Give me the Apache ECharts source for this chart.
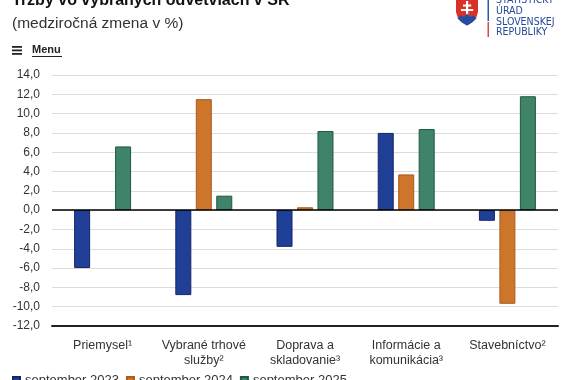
<!DOCTYPE html>
<html>
<head>
<meta charset="utf-8">
<script src="https://cdn.jsdelivr.net/npm/echarts@6/dist/echarts.min.js"></script>
<style>html,body{margin:0;padding:0;background:#fff}#c{width:570px;height:380px}</style>
</head>
<body>
<div id="c"></div>
<script>
const categories = ['Priemysel\u00b9', 'Vybrané trhové\nslužby\u00b2', 'Doprava a\nskladovanie\u00b3', 'Informácie a\nkomunikácia\u00b3', 'Stavebníctvo\u00b2'];
const seriesNames = ['september 2023', 'september 2024', 'september 2025'];
const sep2023 = [-6.0, -8.8, -3.8, 8.0, -1.1];
const sep2024 = [null, 11.5, 0.3, 3.7, -9.7];
const sep2025 = [6.6, 1.5, 8.2, 8.4, 11.8];
const yTicks = { min: -12, max: 14, interval: 2 };

const FONT = '"Liberation Sans", Arial, Helvetica, sans-serif';
const NARROW = '"Liberation Sans Narrow", "DejaVu Sans Condensed", ' + FONT;
const colors = ['#203f97', '#cc752b', '#3f8469'];
const borders = ['#14246a', '#a95c1c', '#1c5a40'];
const values = [sep2023, sep2024, sep2025];

const chart = echarts.init(document.getElementById('c'), null, { renderer: 'canvas' });

const series = values.map((v, i) => {
  const s = {
    name: seriesNames[i],
    type: 'bar',
    data: v,
    barWidth: 16,
    barGap: '28%',
    itemStyle: { color: colors[i], borderColor: borders[i], borderWidth: 1 },
    emphasis: { disabled: true }
  };
  if (i === 0) {
    s.markLine = {
      silent: true, symbol: ['none', 'none'], label: { show: false },
      lineStyle: { color: '#000', width: 1.5, type: 'solid' },
      data: [{ yAxis: 0 }]
    };
  }
  return s;
});

function txt(x, y, text, font, fill) {
  return { type: 'text', x: x, y: y, style: { text: text, font: font, fill: fill, textVerticalAlign: 'middle', verticalAlign: 'middle' } };
}
function rect(x, y, w, h, fill) {
  return { type: 'rect', shape: { x: x, y: y, width: w, height: h }, style: { fill: fill } };
}
function poly(points, fill) {
  return { type: 'polygon', shape: { points: points }, style: { fill: fill } };
}

chart.setOption({
  animation: false,
  textStyle: { fontFamily: FONT },
  grid: { left: 52, right: 12, top: 75, bottom: 54, containLabel: false },
  xAxis: {
    type: 'category',
    data: categories,
    axisLine: { onZero: false, lineStyle: { color: '#222', width: 2 } },
    axisTick: { alignWithLabel: true, length: 6, lineStyle: { color: '#ccc' } },
    axisLabel: { color: '#333', fontSize: 12.5, margin: 12, lineHeight: 15, fontFamily: FONT, interval: 0 }
  },
  yAxis: {
    type: 'value',
    min: yTicks.min, max: yTicks.max, interval: yTicks.interval,
    axisLine: { show: false },
    axisTick: { show: false },
    splitLine: { lineStyle: { color: '#dcdcdc', width: 1 } },
    axisLabel: { color: '#333', fontSize: 12, margin: 12, fontFamily: FONT,
      formatter: v => v.toFixed(1).replace('.', ',') }
  },
  legend: {
    left: 12, top: 374, padding: 0, icon: 'rect', itemWidth: 7, itemHeight: 7, itemGap: 7,
    textStyle: { color: '#333', fontSize: 13, fontFamily: FONT },
    data: seriesNames
  },
  series: series,
  graphic: [
    txt(12, 1, 'Tržby vo vybraných odvetviach v SR', 'bold 16px ' + FONT, '#111'),
    txt(12, 24, '(medziročná zmena v %)', '15.5px ' + FONT, '#333'),
    rect(12, 46, 10, 1.8, '#222'),
    rect(12, 49.5, 10, 1.8, '#222'),
    rect(12, 53, 10, 1.8, '#222'),
    txt(32, 50, 'Menu', 'bold 11px ' + FONT, '#222'),
    rect(32, 56, 30, 1, '#222'),
    poly([[455,-3],[479,-3],[479,12],[477,19],[472.5,23.5],[467,26.5],[461.5,23.5],[457,19],[455,12]], '#ffffff'),
    poly([[456,-2],[478,-2],[478,12],[476,18.5],[472,22.5],[467,25.5],[462,22.5],[458,18.5],[456,12]], '#d8312a'),
    rect(466, 1, 2.2, 16, '#fff'),
    rect(463, 4.5, 8.2, 2, '#fff'),
    rect(461, 9, 12.2, 2, '#fff'),
    poly([[457.5,18.5],[460.5,15.5],[464,17],[467,13.5],[470,17],[473.5,15.5],[476.5,18.5],[472,22.5],[467,25.5],[462,22.5]], '#1f4fa3'),
    rect(487.5, 0, 1.5, 21, '#2f56a6'),
    rect(487.5, 22, 1.5, 15, '#d8454a'),
    txt(496, 0, 'ŠTATISTICKÝ', '10.5px ' + NARROW, '#27479a'),
    txt(496, 11, 'ÚRAD', '10.5px ' + NARROW, '#27479a'),
    txt(496, 22, 'SLOVENSKEJ', '10.5px ' + NARROW, '#27479a'),
    txt(496, 32, 'REPUBLIKY', '10.5px ' + NARROW, '#27479a')
  ]
});
</script>
</body>
</html>
